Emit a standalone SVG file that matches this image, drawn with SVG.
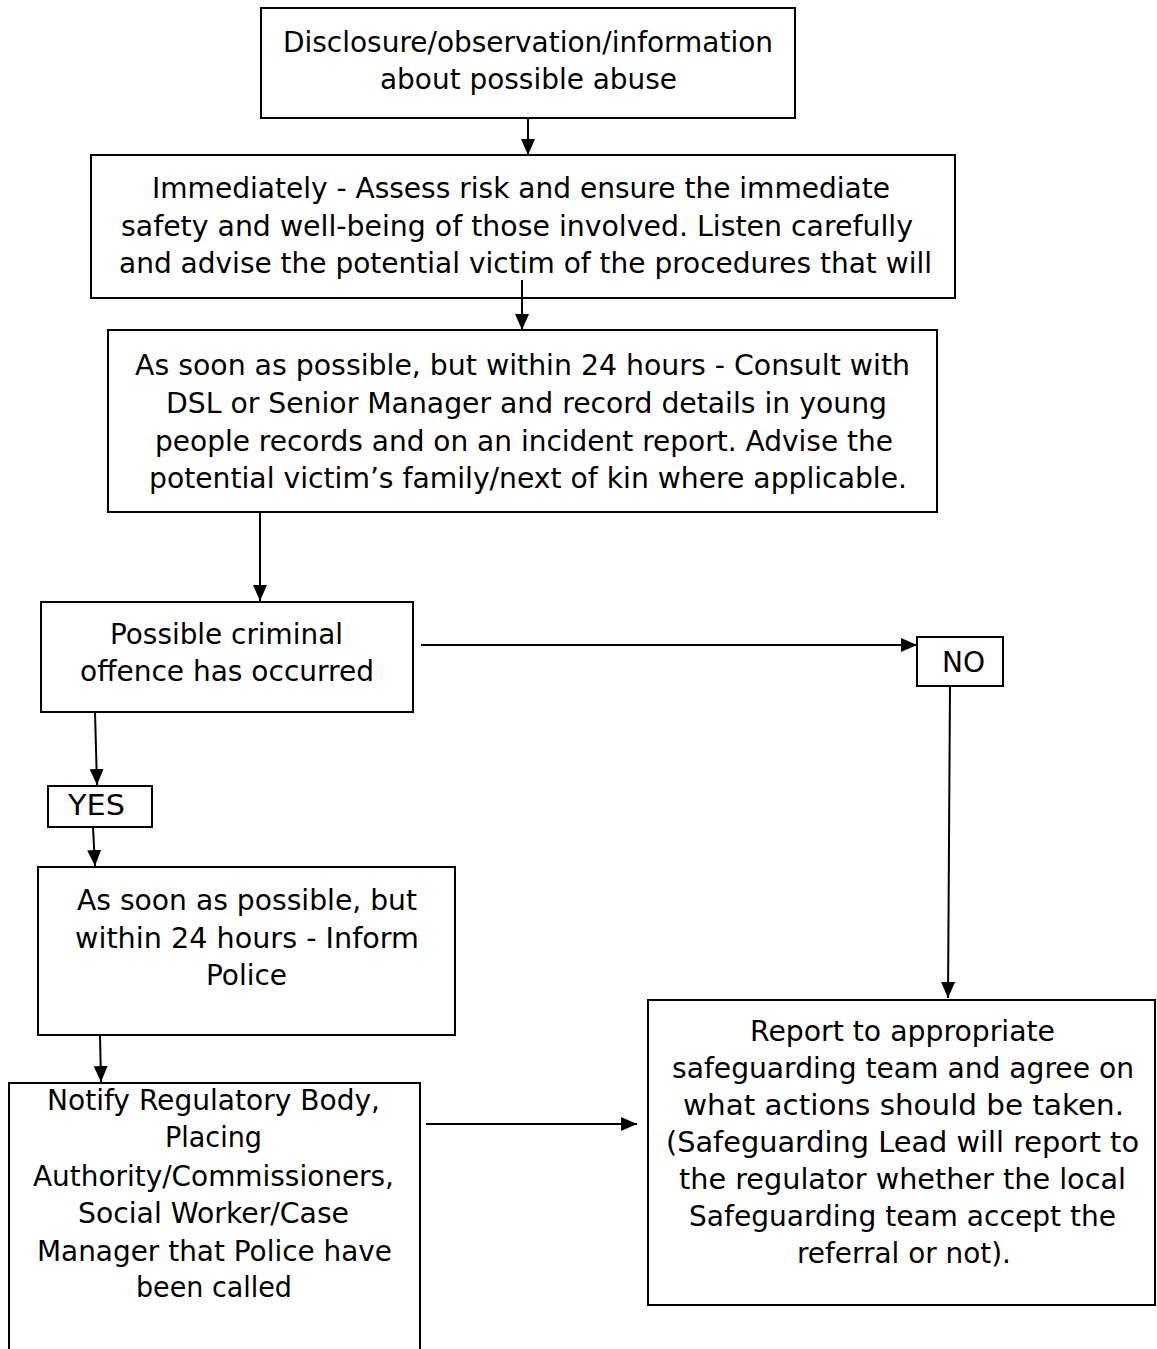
<svg xmlns="http://www.w3.org/2000/svg" width="1157" height="1349" viewBox="0 0 1157 1349">
<style>
.box{fill:#fff;stroke:#000;stroke-width:2}
.t{font-family:"DejaVu Sans",Tahoma,sans-serif;font-size:29px;fill:#000}
.c{stroke:#000;stroke-width:2;fill:none}
</style>
<defs>
<marker id="a" viewBox="0 0 16 14" refX="16" refY="7" markerWidth="16" markerHeight="14" markerUnits="userSpaceOnUse" orient="auto">
<path d="M0,0 L16,7 L0,14 Z" fill="#000"/>
</marker>
</defs>
<rect width="1157" height="1349" fill="#fff"/>
<g id="n1">
<rect class="box" x="261" y="8" width="534" height="110"/>
<text class="t" x="283" y="52" textLength="490" lengthAdjust="spacingAndGlyphs">Disclosure/observation/information</text>
<text class="t" x="380" y="89" textLength="297" lengthAdjust="spacingAndGlyphs">about possible abuse</text>
</g>
<g id="n2">
<rect class="box" x="91" y="155" width="864" height="143"/>
<text class="t" x="152" y="198" textLength="738" lengthAdjust="spacingAndGlyphs">Immediately - Assess risk and ensure the immediate</text>
<text class="t" x="121" y="236" textLength="792" lengthAdjust="spacingAndGlyphs">safety and well-being of those involved. Listen carefully</text>
<text class="t" x="119" y="273" textLength="813" lengthAdjust="spacingAndGlyphs">and advise the potential victim of the procedures that will</text>
</g>
<g id="n3">
<rect class="box" x="108" y="330" width="829" height="182"/>
<text class="t" x="135" y="375" textLength="775" lengthAdjust="spacingAndGlyphs">As soon as possible, but within 24 hours - Consult with</text>
<text class="t" x="166" y="413" textLength="721" lengthAdjust="spacingAndGlyphs">DSL or Senior Manager and record details in young</text>
<text class="t" x="155" y="451" textLength="738" lengthAdjust="spacingAndGlyphs">people records and on an incident report. Advise the</text>
<text class="t" x="149" y="488" textLength="758" lengthAdjust="spacingAndGlyphs">potential victim’s family/next of kin where applicable.</text>
</g>
<g id="n4">
<rect class="box" x="41" y="602" width="372" height="110"/>
<text class="t" x="110" y="644" textLength="233" lengthAdjust="spacingAndGlyphs">Possible criminal</text>
<text class="t" x="80" y="681" textLength="294" lengthAdjust="spacingAndGlyphs">offence has occurred</text>
</g>
<g id="nNo">
<rect class="box" x="917" y="637" width="86" height="49"/>
<text class="t" x="942" y="672" textLength="43" lengthAdjust="spacingAndGlyphs">NO</text>
</g>
<g id="nYes">
<rect class="box" x="48" y="786" width="104" height="41"/>
<text class="t" x="68" y="815" textLength="57" lengthAdjust="spacingAndGlyphs">YES</text>
</g>
<g id="n5">
<rect class="box" x="38" y="867" width="417" height="168"/>
<text class="t" x="77" y="910" textLength="340" lengthAdjust="spacingAndGlyphs">As soon as possible, but</text>
<text class="t" x="75" y="948" textLength="344" lengthAdjust="spacingAndGlyphs">within 24 hours - Inform</text>
<text class="t" x="206" y="985" textLength="81" lengthAdjust="spacingAndGlyphs">Police</text>
</g>
<g id="n6">
<rect class="box" x="648" y="1000" width="507" height="305"/>
<text class="t" x="750" y="1041" textLength="305" lengthAdjust="spacingAndGlyphs">Report to appropriate</text>
<text class="t" x="672" y="1078" textLength="462" lengthAdjust="spacingAndGlyphs">safeguarding team and agree on</text>
<text class="t" x="683" y="1115" textLength="441" lengthAdjust="spacingAndGlyphs">what actions should be taken.</text>
<text class="t" x="666" y="1152" textLength="473" lengthAdjust="spacingAndGlyphs">(Safeguarding Lead will report to</text>
<text class="t" x="679" y="1189" textLength="447" lengthAdjust="spacingAndGlyphs">the regulator whether the local</text>
<text class="t" x="689" y="1226" textLength="427" lengthAdjust="spacingAndGlyphs">Safeguarding team accept the</text>
<text class="t" x="797" y="1263" textLength="214" lengthAdjust="spacingAndGlyphs">referral or not).</text>
</g>
<g id="n7">
<rect class="box" x="9" y="1083" width="411" height="290"/>
<text class="t" x="47" y="1110" textLength="333" lengthAdjust="spacingAndGlyphs">Notify Regulatory Body,</text>
<text class="t" x="165" y="1147" textLength="97" lengthAdjust="spacingAndGlyphs">Placing</text>
<text class="t" x="33" y="1186" textLength="361" lengthAdjust="spacingAndGlyphs">Authority/Commissioners,</text>
<text class="t" x="78" y="1223" textLength="271" lengthAdjust="spacingAndGlyphs">Social Worker/Case</text>
<text class="t" x="37" y="1261" textLength="355" lengthAdjust="spacingAndGlyphs">Manager that Police have</text>
<text class="t" x="136" y="1297" textLength="156" lengthAdjust="spacingAndGlyphs">been called</text>
</g>
<g id="connectors">
<line class="c" x1="528" y1="118" x2="528" y2="155" marker-end="url(#a)"/>
<line class="c" x1="522" y1="280" x2="522" y2="330" marker-end="url(#a)"/>
<line class="c" x1="260" y1="512" x2="260" y2="601" marker-end="url(#a)"/>
<line class="c" x1="421" y1="645" x2="917" y2="645" marker-end="url(#a)"/>
<line class="c" x1="950" y1="686" x2="948" y2="998" marker-end="url(#a)"/>
<line class="c" x1="95" y1="712" x2="97" y2="785" marker-end="url(#a)"/>
<line class="c" x1="93" y1="827" x2="95" y2="866" marker-end="url(#a)"/>
<line class="c" x1="100" y1="1035" x2="101" y2="1082" marker-end="url(#a)"/>
<line class="c" x1="426" y1="1124" x2="637" y2="1124" marker-end="url(#a)"/>
</g>
</svg>
